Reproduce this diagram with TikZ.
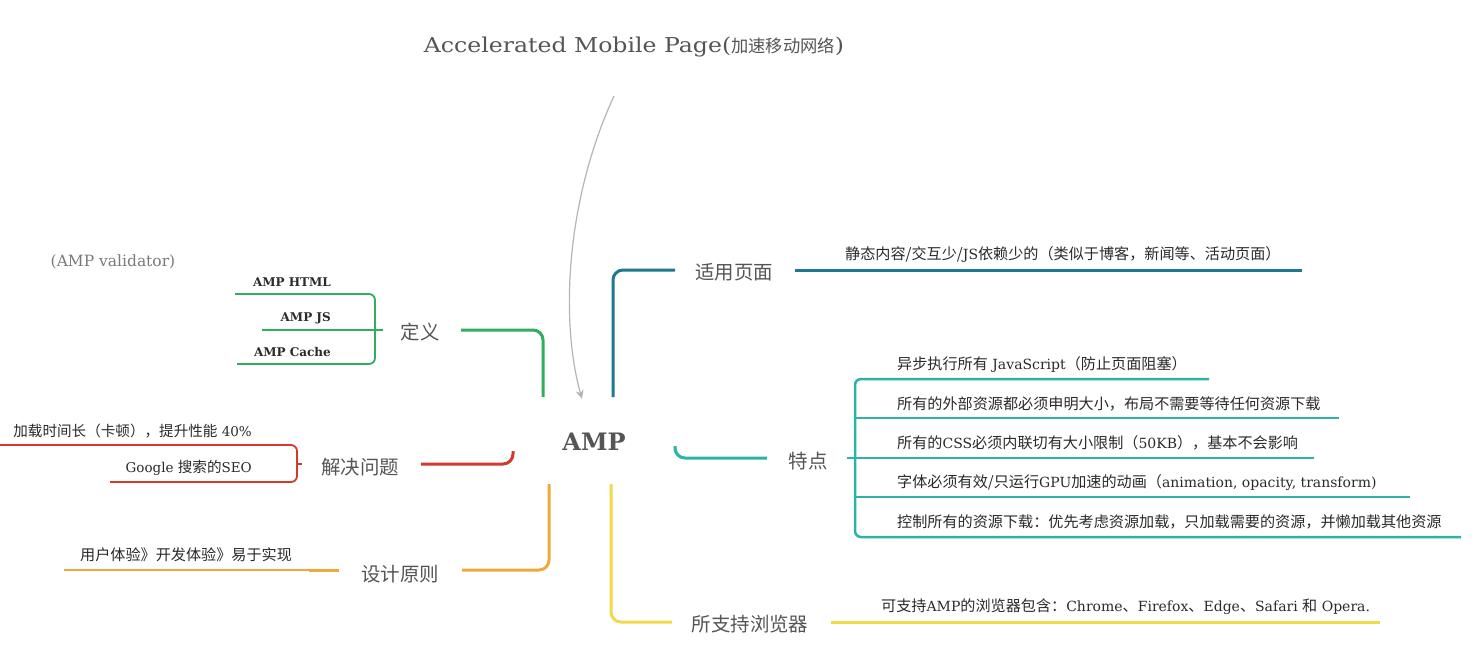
\documentclass[tikz,border=0pt]{standalone}
\usepackage{fontspec}
\setmainfont{DejaVu Serif}
\newfontfamily\zh{Noto Sans CJK SC}[Scale=1.08]
\newfontfamily\titlefont{DejaVu Serif}[FakeStretch=1.15]
\usetikzlibrary{arrows.meta}
\definecolor{cBlue}{HTML}{1E7893}
\definecolor{cTeal}{HTML}{2AB3A6}
\definecolor{cYel}{HTML}{F3D84A}
\definecolor{cGreen}{HTML}{2FAE5E}
\definecolor{cRed}{HTML}{D23A2C}
\definecolor{cOrg}{HTML}{EFA93A}
\definecolor{cLabel}{HTML}{555555}
\definecolor{cText}{HTML}{2A2A2A}
\definecolor{cGrayT}{HTML}{7A7A7A}
\definecolor{cArrow}{HTML}{B5B5B5}
\begin{document}
\begin{tikzpicture}[x=1pt,y=-1pt,
  branch/.style={line width=3pt, rounded corners=10pt},
  subline/.style={line width=1.8pt, rounded corners=6pt},
  subthick/.style={line width=2.5pt, rounded corners=6pt},
  lbl/.style={font=\zh\fontsize{18}{22}\selectfont, text=cLabel, inner sep=0pt},
  item/.style={font=\fontsize{14}{17}\selectfont, text=cText, inner sep=0pt, anchor=base west},
  itemr/.style={item, anchor=base east},
  titlestyle/.style={font=\titlefont\fontsize{20.5}{24}\selectfont, text=cLabel, inner sep=0pt},
  linkarrow/.style={draw=cArrow, line width=1.2pt, -{Stealth[length=9pt,width=8pt]}}
]
\fill[white] (0,0) rectangle (1474,649);
\useasboundingbox (0,0) rectangle (1474,649);

% title and centre
\node[titlestyle] (title) at (634,47) {Accelerated Mobile Page({\zh\fontsize{16}{20}\selectfont 加速移动网络})};
\node[font=\bfseries\fontsize{24}{28}\selectfont, text=cLabel, inner sep=0pt] (amp) at (594,442) {AMP};
\coordinate (arrStart) at (614,96);
\coordinate (arrEnd) at (582,399);
\draw[linkarrow] (arrStart) .. controls (566,200) and (560,320) .. (arrEnd);

% ---- 适用页面 (blue)
\node[lbl] (syym) at (734,272) {适用页面};
\coordinate (b1a) at (613,397);
\coordinate (b1b) at (675,270);
\draw[branch,cBlue] (b1a) |- (b1b);
\coordinate (b1c) at (795,270);
\coordinate (b1d) at (1302,270);
\draw[branch,cBlue] (b1c) -- (b1d);
\node[item] (syymT) at (845,259) {{\zh 静态内容/交互少/}JS{\zh 依赖少的（类似于博客，新闻等、活动页面）}};

% ---- 特点 (teal)
\node[lbl] (td) at (808,461) {特点};
\coordinate (b2a) at (675,446);
\coordinate (b2b) at (767,458);
\draw[branch,cTeal] (b2a) |- (b2b);
\draw[subthick,cTeal] (1209,379) -- (855,379) -- (855,537) -- (1461,537);
\draw[subthick,cTeal] (847,458) -- (855,458);
\draw[subthick,cTeal] (855,418) -- (1339,418);
\draw[subthick,cTeal] (855,458) -- (1314,458);
\draw[subthick,cTeal] (855,497) -- (1410,497);
\node[item] (t1) at (897,369) {{\zh 异步执行所有} JavaScript{\zh （防止页面阻塞）}};
\node[item] (t2) at (897,409) {{\zh 所有的外部资源都必须申明大小，布局不需要等待任何资源下载}};
\node[item] (t3) at (897,448) {{\zh 所有的}CSS{\zh 必须内联切有大小限制（}50KB{\zh ），基本不会影响}};
\node[item] (t4) at (897,487) {{\zh 字体必须有效/只运行}GPU{\zh 加速的动画（}animation, opacity, transform)};
\node[item] (t5) at (897,527) {{\zh 控制所有的资源下载：优先考虑资源加载，只加载需要的资源，并懒加载其他资源}};

% ---- 所支持浏览器 (yellow)
\node[lbl] (zc) at (750,624) {所支持浏览器};
\coordinate (b3a) at (611,484);
\coordinate (b3b) at (672,622);
\draw[branch,cYel] (b3a) |- (b3b);
\draw[branch,cYel] (831,622) -- (1380,622);
\node[item] (zcT) at (881,611) {{\zh 可支持}AMP{\zh 的浏览器包含：}Chrome{\zh 、}Firefox{\zh 、}Edge{\zh 、}Safari {\zh 和} Opera.};

% ---- 定义 (green)
\node[lbl] (dy) at (420,332) {定义};
\coordinate (b4a) at (543,397);
\coordinate (b4b) at (461,330);
\draw[branch,cGreen] (b4a) |- (b4b);
\draw[subline,cGreen] (235,294) -- (375,294) -- (375,364) -- (237,364);
\draw[subline,cGreen] (262,330) -- (383,330);
\node[itemr,font=\bfseries\fontsize{12}{15}\selectfont] (d1) at (331,286) {AMP HTML};
\node[itemr,font=\bfseries\fontsize{12}{15}\selectfont] (d2) at (331,321) {AMP JS};
\node[itemr,font=\bfseries\fontsize{12}{15}\selectfont] (d3) at (331,356) {AMP Cache};
\node[font=\fontsize{15.5}{18}\selectfont, text=cGrayT, inner sep=0pt] (val) at (113,262) {(AMP validator)};

% ---- 解决问题 (red)
\node[lbl] (jj) at (360,467) {解决问题};
\coordinate (b5a) at (513,451);
\coordinate (b5b) at (421,464);
\draw[branch,cRed] (b5a) |- (b5b);
\draw[subline,cRed] (0,445) -- (297,445) -- (297,482) -- (110,482);
\draw[subline,cRed] (297,464) -- (302,464);
\node[itemr,font=\fontsize{13.5}{16}\selectfont] (j1) at (252,436) {{\zh 加载时间长（卡顿），提升性能} 40\%};
\node[itemr,font=\fontsize{13.5}{16}\selectfont] (j2) at (252,472) {Google {\zh 搜索的}SEO};

% ---- 设计原则 (orange)
\node[lbl] (sj) at (400,574) {设计原则};
\coordinate (b6a) at (549,484);
\coordinate (b6b) at (462,570);
\draw[branch,cOrg] (b6a) |- (b6b);
\draw[subline,cOrg] (339,570) -- (64,570);
\draw[line width=3pt,cOrg] (309,570) -- (339,570);
\node[item] (s1) at (80,560) {{\zh 用户体验》开发体验》易于实现}};
\end{tikzpicture}
\end{document}
